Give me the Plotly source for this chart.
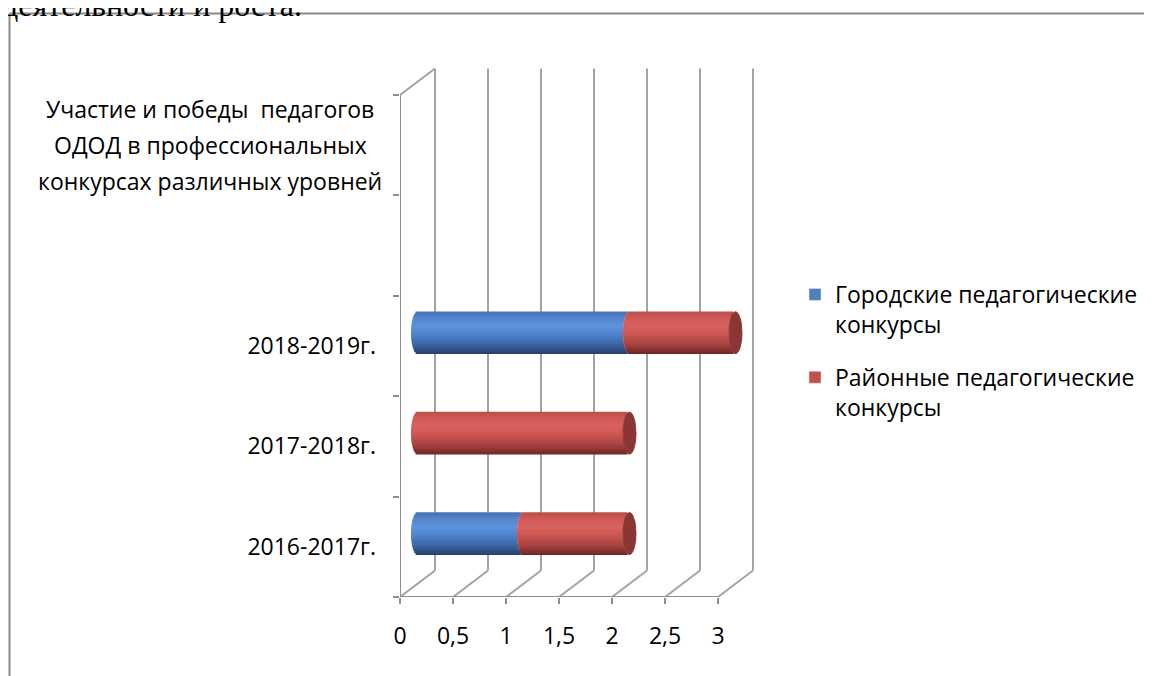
import numpy as np
import plotly.graph_objects as go

# ---------------- data ----------------
CATEGORIES = [
    "2016-2017г.",
    "2017-2018г.",
    "2018-2019г.",
    "",
    "Участие и победы  педагогов<br>ОДОД в профессиональных<br>конкурсах различных уровней",
]
SERIES_NAMES = ["Городские педагогические<br>конкурсы", "Районные педагогические<br>конкурсы"]
CITY = [1, 0, 2, 0, 0]
DISTRICT = [1, 2, 1, 0, 0]
X_TICKS = [0, 0.5, 1, 1.5, 2, 2.5, 3]
X_TICK_TEXT = ["0", "0,5", "1", "1,5", "2", "2,5", "3"]
HEADER = "деятельности и роста."

# ---------------- geometry (reference window pixels) ----------------
OFF = 8                       # page body margin
W, H = 1152 - OFF, 676 - OFF
X0_PX, UNIT_X = 400, 106.0
Y0_PX, UNIT_Y = 597, 100.4
PLOT_R_PX = 780
PLOT_T_PX = 55
XMAX = (PLOT_R_PX - X0_PX) / UNIT_X
YMAX = (Y0_PX - PLOT_T_PX) / UNIT_Y
DEPTH_X = 35 / UNIT_X
DEPTH_Y = 26.5 / UNIT_Y
BAR_H = 42 / UNIT_Y
RX = 6.5 / UNIT_X
N_BANDS = 21
FONT = "'Open Sans', Lato, sans-serif"
FS = 23


def px_x(px):
    return (px - X0_PX) / (PLOT_R_PX - X0_PX)


def px_y(py):
    return (Y0_PX - py) / (Y0_PX - PLOT_T_PX)


def hex2rgb(h):
    h = h.lstrip("#")
    return [int(h[i:i + 2], 16) for i in (0, 2, 4)]


def shade(stops, t):
    for (t0, c0), (t1, c1) in zip(stops[:-1], stops[1:]):
        if t0 <= t <= t1:
            f = (t - t0) / (t1 - t0)
            a, b = hex2rgb(c0), hex2rgb(c1)
            r = [round(a[i] + (b[i] - a[i]) * f) for i in range(3)]
            return "rgb(%d,%d,%d)" % tuple(r)
    return stops[-1][1]


BLUE_STOPS = [(-1, "#24406a"), (-0.55, "#3b66a4"), (0, "#4f86cf"), (0.35, "#5c93db"), (0.75, "#5284c9"), (1, "#4472b3")]
RED_STOPS = [(-1, "#6b2523"), (-0.55, "#a64240"), (0, "#cf5855"), (0.35, "#d9615e"), (0.75, "#cf5956"), (1, "#bd4e4b")]

fig = go.Figure()
ncat = len(CATEGORIES)

# ---------------- walls / grid (base subplot) ----------------
gx, gy = [], []
for v in X_TICKS:
    gx += [v + DEPTH_X, v + DEPTH_X, None]
    gy += [DEPTH_Y, ncat + DEPTH_Y, None]
    gx += [v, v + DEPTH_X, None]
    gy += [0, DEPTH_Y, None]
gx += [0, DEPTH_X, None]
gy += [ncat, ncat + DEPTH_Y, None]
fig.add_trace(go.Scatter(x=gx, y=gy, mode="lines", line=dict(color="#a3a3a3", width=2),
                         cliponaxis=False, showlegend=False, hoverinfo="skip"))
fig.add_trace(go.Scatter(x=[0, 0, None, 0, X_TICKS[-1]], y=[ncat, 0, None, 0, 0], mode="lines",
                         line=dict(color="#8e8e8e", width=2), cliponaxis=False,
                         showlegend=False, hoverinfo="skip"))

# ---------------- cylinders (overlay subplot) ----------------
series = [
    (SERIES_NAMES[0], CITY, BLUE_STOPS, "#4f81bd", "#2e4f80"),
    (SERIES_NAMES[1], DISTRICT, RED_STOPS, "#c0504d", "#8a3634"),
]
cum = np.zeros(ncat)
cap_color = [None] * ncat
for name, vals, stops, leg_col, cap_col in series:
    vals = np.array(vals, float)
    for k in range(N_BANDS):
        t = -1 + (2 * k + 1) / N_BANDS
        s = np.sqrt(1 - t * t)
        y = np.arange(ncat) + 0.5 + DEPTH_Y / 2 + t * BAR_H / 2
        base = cum + DEPTH_X / 2 - RX * s
        x = [v if v > 0 else None for v in vals]
        fig.add_trace(go.Bar(orientation="h", x=x, y=y, base=base,
                             width=BAR_H / N_BANDS * 1.35,
                             marker=dict(color=shade(stops, t), line=dict(width=0)),
                             xaxis="x2", yaxis="y2", showlegend=False, hoverinfo="skip"))
    for i in range(ncat):
        if vals[i] > 0:
            cap_color[i] = cap_col
    cum = cum + vals

theta = np.linspace(0, 2 * np.pi, 60)
for col in sorted(set(c for c in cap_color if c)):
    cx, cy = [], []
    for i in range(ncat):
        if cap_color[i] == col:
            cx += list(cum[i] + DEPTH_X / 2 + RX * np.cos(theta)) + [None]
            cy += list(i + 0.5 + DEPTH_Y / 2 + BAR_H / 2 * np.sin(theta)) + [None]
    fig.add_trace(go.Scatter(x=cx, y=cy, mode="lines", fill="toself", fillcolor=col,
                             line=dict(color=col, width=1), xaxis="x2", yaxis="y2",
                             showlegend=False, hoverinfo="skip"))

# legend entries
for gi, (name, vals, stops, leg_col, cap_col) in enumerate(series):
    fig.add_trace(go.Bar(x=[None], y=[None], orientation="h", name=name,
                         marker=dict(color=leg_col), xaxis="x2", yaxis="y2",
                         legendgroup="g%d" % gi))

# ---------------- annotations ----------------
annotations = []
long_lines = CATEGORIES[-1].split("<br>")
mid = (len(long_lines) - 1) / 2
for idx, line in enumerate(long_lines):
    annotations.append(dict(text=line, x=px_x(210), xref="paper", y=ncat - 0.5, yref="y",
                            yshift=(mid - idx) * 36, showarrow=False, xanchor="center",
                            font=dict(family=FONT, size=FS, color="#000")))
annotations.append(dict(text=HEADER, x=px_x(0), xref="paper", xanchor="left",
                        y=px_y(5), yref="paper", yanchor="middle", showarrow=False,
                        font=dict(family="'Liberation Serif', 'DejaVu Serif', serif", size=32, color="#000")))

ytext = [c if "<br>" not in c else "" for c in CATEGORIES]

fig.update_layout(
    width=W, height=H,
    margin=dict(l=X0_PX - OFF, r=1152 - PLOT_R_PX, t=PLOT_T_PX - OFF, b=676 - Y0_PX),
    paper_bgcolor="white", plot_bgcolor="rgba(0,0,0,0)",
    barmode="overlay", separators=", ",
    font=dict(family=FONT, size=FS, color="#000"),
    xaxis=dict(range=[0, XMAX], tickvals=X_TICKS, ticktext=X_TICK_TEXT, ticks="outside",
               ticklen=6, tickwidth=1.5, tickcolor="#8e8e8e", showgrid=False, zeroline=False,
               showline=False, ticklabelstandoff=12, tickfont=dict(size=FS), automargin=False),
    yaxis=dict(range=[0, YMAX], tickvals=[i + 0.5 for i in range(ncat)], ticktext=ytext,
               ticks="", showgrid=False, zeroline=False, showline=False,
               ticklabelstandoff=23, tickfont=dict(size=FS), automargin=False,
               minor=dict(tickvals=list(range(ncat + 1)), ticks="outside", ticklen=6,
                          tickwidth=1.5, tickcolor="#8e8e8e", showgrid=False)),
    xaxis2=dict(range=[0, XMAX], overlaying="x", visible=False),
    yaxis2=dict(range=[0, YMAX], overlaying="y", visible=False),
    legend=dict(xref="container", yref="container",
                x=(795 - OFF) / W, y=1 - (273 - OFF) / H, xanchor="left", yanchor="top",
                font=dict(family=FONT, size=FS, color="#000"), valign="top",
                tracegroupgap=20, traceorder="grouped", bgcolor="rgba(0,0,0,0)"),
    annotations=annotations,
    shapes=[
        dict(type="line", xref="paper", yref="paper", x0=px_x(9.5), x1=px_x(9.5),
             y0=px_y(700), y1=px_y(13.5), line=dict(color="#8a8a8a", width=2)),
        dict(type="line", xref="paper", yref="paper", x0=px_x(9.5), x1=px_x(1170),
             y0=px_y(13.5), y1=px_y(13.5), line=dict(color="#8a8a8a", width=2)),
    ],
    showlegend=True,
)

fig.write_html("out.html")
